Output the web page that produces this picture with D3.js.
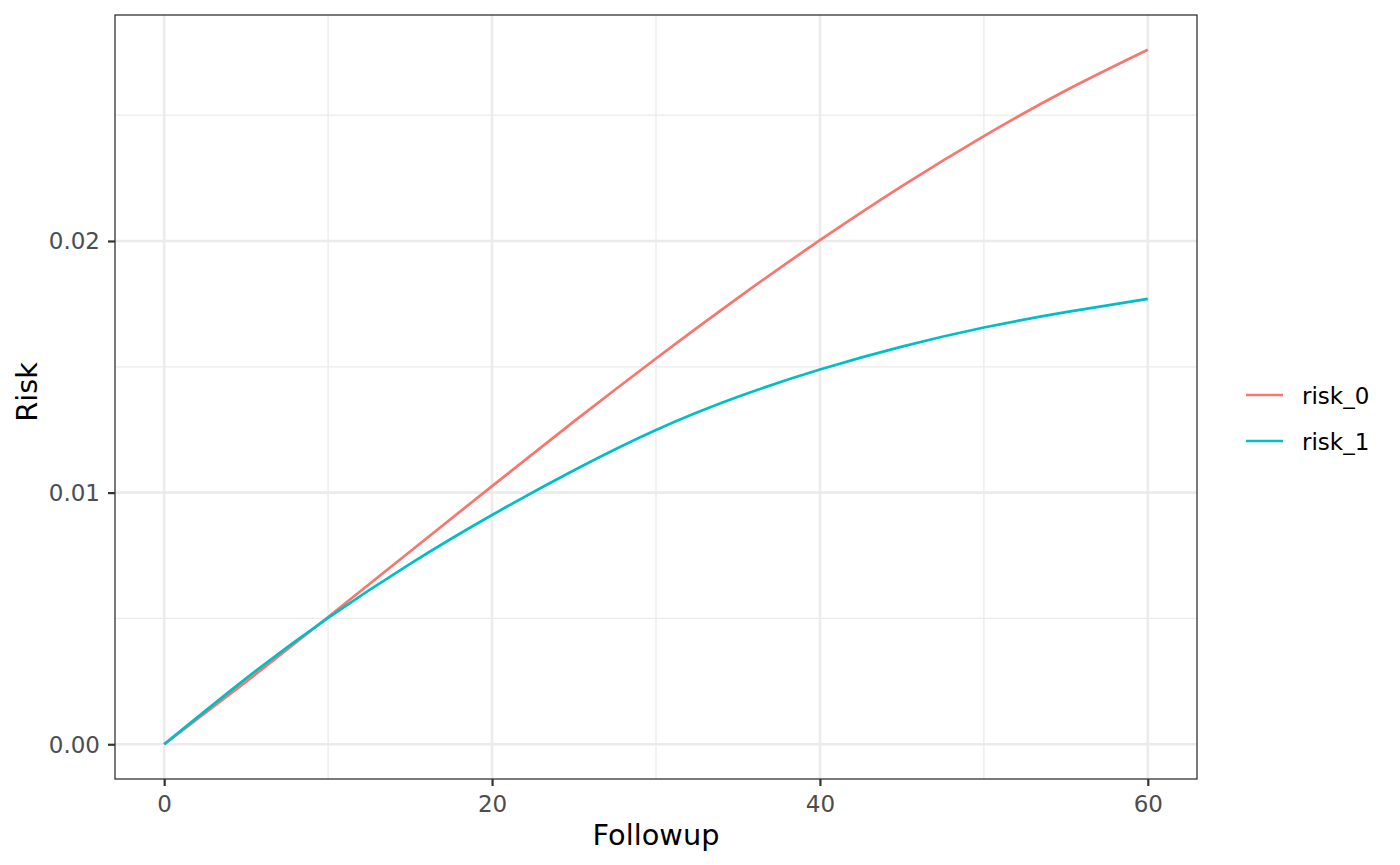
<!DOCTYPE html>
<html><head><meta charset="utf-8">
<script src="https://cdn.jsdelivr.net/npm/d3@7"></script>
<style>body{margin:0;background:#fff}svg{display:block}text{font-family:"DejaVu Sans",sans-serif}</style>
</head><body>
<script>
const followup = [0,5,10,15,20,25,30,35,40,45,50,55,60];
const risk_0 = [0,0.00249,0.00506,0.00766,0.01026,0.01283,0.01533,0.01774,0.02003,0.02218,0.02417,0.02598,0.02760];
const risk_1 = [0,0.00262,0.00502,0.00717,0.00911,0.01089,0.01249,0.01381,0.01489,0.01580,0.01656,0.01717,0.01770];
const seriesNames = ["risk_0","risk_1"];
const seriesColors = ["#F8766D","#00BFC4"];
const xMajor = [0,20,40,60], xMinor = [10,30,50];
const yMajor = [0,0.01,0.02], yMinor = [0.005,0.015,0.025];
const yTickLabels = ["0.00","0.01","0.02"];

const W=1400,H=865;
const L=115,R=1197,T=15,B=779;
const svg=d3.select("body").append("svg").attr("width",W).attr("height",H);
const x=d3.scaleLinear().domain([-3,63]).range([L,R]);
const y=d3.scaleLinear().domain([-0.00138,0.02898]).range([B,T]);

const g=svg.append("g");
g.append("rect").attr("x",L).attr("y",T).attr("width",R-L).attr("height",B-T).attr("fill","#fff");
g.selectAll(".xm").data(xMinor).enter().append("line").attr("x1",d=>x(d)).attr("x2",d=>x(d)).attr("y1",T).attr("y2",B).attr("stroke","#EBEBEB").attr("stroke-width",1.3);
g.selectAll(".ym").data(yMinor).enter().append("line").attr("y1",d=>y(d)).attr("y2",d=>y(d)).attr("x1",L).attr("x2",R).attr("stroke","#EBEBEB").attr("stroke-width",1.3);
g.selectAll(".xM").data(xMajor).enter().append("line").attr("x1",d=>x(d)).attr("x2",d=>x(d)).attr("y1",T).attr("y2",B).attr("stroke","#EBEBEB").attr("stroke-width",2.6);
g.selectAll(".yM").data(yMajor).enter().append("line").attr("y1",d=>y(d)).attr("y2",d=>y(d)).attr("x1",L).attr("x2",R).attr("stroke","#EBEBEB").attr("stroke-width",2.6);

const series=[risk_0,risk_1];
const line=d3.line().x((d,i)=>x(followup[i])).y(d=>y(d)).curve(d3.curveNatural);
series.forEach((s,k)=>{
  g.append("path").datum(s).attr("d",line).attr("fill","none").attr("stroke",seriesColors[k]).attr("stroke-width",2.7).attr("stroke-linecap","butt");
});

g.append("rect").attr("x",L).attr("y",T).attr("width",R-L).attr("height",B-T).attr("fill","none").attr("stroke","#333333").attr("stroke-width",1.3);

const xAxis=d3.axisBottom(x).tickValues(xMajor).tickSize(7).tickPadding(6).tickFormat(d3.format("d"));
const xa=svg.append("g").attr("transform",`translate(0,${B})`).call(xAxis);
xa.select(".domain").remove();
xa.selectAll(".tick line").attr("stroke","#333333").attr("stroke-width",2.2);
xa.selectAll(".tick text").attr("fill","#4D4D4D").style("font-size","23px").attr("dy",null).attr("y",32.5);

const yAxis=d3.axisLeft(y).tickValues(yMajor).tickSize(7).tickPadding(6).tickFormat((d,i)=>yTickLabels[i]);
const ya=svg.append("g").attr("transform",`translate(${L},0)`).call(yAxis);
ya.select(".domain").remove();
ya.selectAll(".tick line").attr("stroke","#333333").attr("stroke-width",2.2);
ya.selectAll(".tick text").attr("fill","#4D4D4D").style("font-size","23px").attr("dy",null).attr("y",8).attr("x",-15);

svg.append("text").attr("x",(L+R)/2).attr("y",845).attr("text-anchor","middle").style("font-size","28.8px").attr("fill","#000").text("Followup");
svg.append("text").attr("transform","translate(36.5,392) rotate(-90)").attr("text-anchor","middle").style("font-size","28.8px").attr("fill","#000").text("Risk");

const lg=svg.append("g");
seriesNames.forEach((n,k)=>{
  const yy=395+k*46;
  lg.append("line").attr("x1",1246).attr("x2",1283).attr("y1",yy).attr("y2",yy).attr("stroke",seriesColors[k]).attr("stroke-width",2.7);
  lg.append("text").attr("x",1302).attr("y",yy+8.8).style("font-size","23px").attr("fill","#000").text(n);
});
</script>
</body></html>
